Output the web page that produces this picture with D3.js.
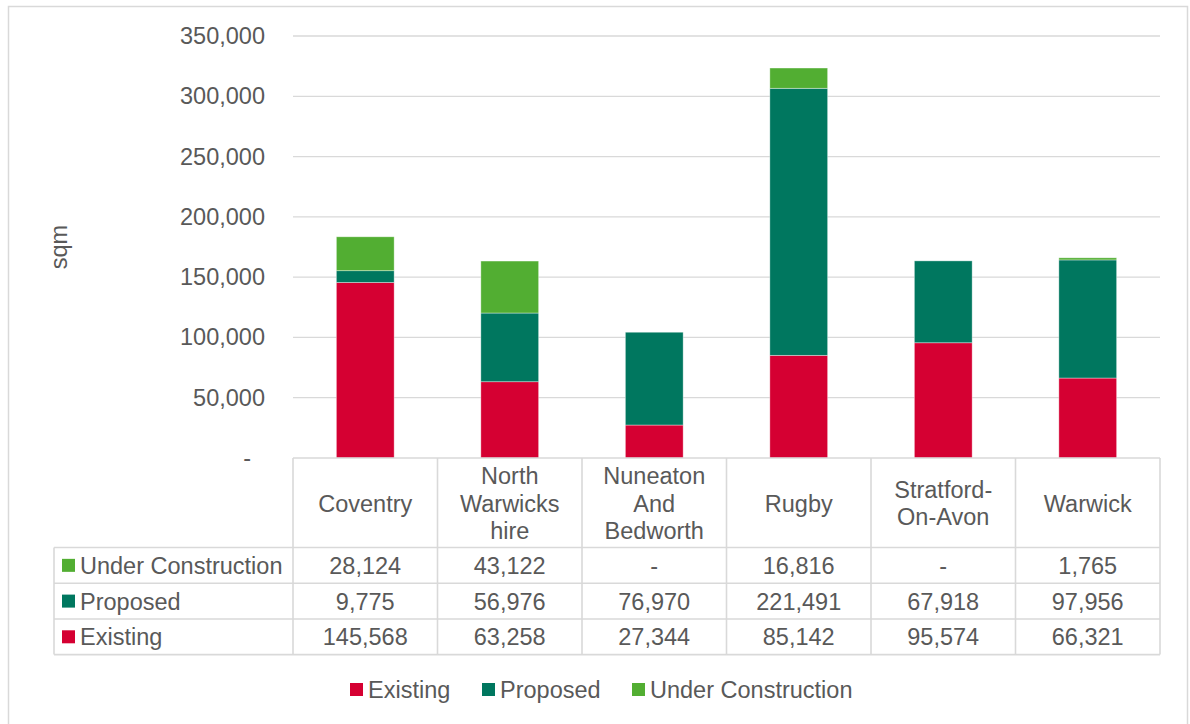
<!DOCTYPE html>
<html><head><meta charset="utf-8">
<script src="https://cdn.jsdelivr.net/npm/d3@7"></script>
<style>
html,body{margin:0;padding:0;background:#fff;}
svg text{font-family:"Liberation Sans",Arial,sans-serif;fill:#595959;}
</style></head>
<body><svg id="c" width="1190" height="724"></svg>
<script>
const categories = ["Coventry","North Warwickshire","Nuneaton And Bedworth","Rugby","Stratford-On-Avon","Warwick"];
const categoryLines = [["Coventry"],["North","Warwicks","hire"],["Nuneaton","And","Bedworth"],["Rugby"],["Stratford-","On-Avon"],["Warwick"]];
const existing = [145568,63258,27344,85142,95574,66321];
const proposed = [9775,56976,76970,221491,67918,97956];
const underConstruction = [28124,43122,0,16816,0,1765];
const seriesNames = ["Existing","Proposed","Under Construction"];
const seriesColors = ["#D50032","#00775F","#52AE32"];
const yTicks = [0,50000,100000,150000,200000,250000,300000,350000];

const svg = d3.select("#c");
const FS = 23.5;
const plot = {left:293,right:1160,top:36,bottom:458};

// outer border
svg.append("rect").attr("x",8.5).attr("y",6.5).attr("width",1179).attr("height",730)
  .attr("fill","none").attr("stroke","#d9d9d9").attr("stroke-width",1.5);

const x = d3.scaleBand().domain(categories).range([plot.left,plot.right]).paddingInner(0.6).paddingOuter(0.3);
const xCell = d3.scaleBand().domain(categories).range([plot.left,plot.right]);
const y = d3.scaleLinear().domain([0,350000]).range([plot.bottom,plot.top]);

// gridlines
svg.append("g").selectAll("line").data(yTicks.slice(1)).join("line")
  .attr("x1",plot.left).attr("x2",plot.right)
  .attr("y1",d=>y(d)).attr("y2",d=>y(d))
  .attr("stroke","#d9d9d9").attr("stroke-width",1.3);

// y axis labels
const fmt = d3.format(",");
const yAxis = d3.axisLeft(y).tickValues(yTicks).tickSize(0).tickPadding(28)
  .tickFormat(d=> d===0 ? "-" : fmt(d));
const ya = svg.append("g").attr("transform",`translate(${plot.left},0)`).call(yAxis);
ya.select(".domain").remove();
ya.selectAll("text").attr("font-size",FS).attr("font-family","Liberation Sans, Arial, sans-serif")
  .attr("fill","#595959").style("fill","#595959")
  .attr("dx",d=> d===0 ? -14 : 0);

// y label
svg.append("text").attr("transform",`translate(${59+8},${247}) rotate(-90)`)
  .attr("text-anchor","middle").attr("font-size",FS).text("sqm");

// stacked bars
const data = categories.map((c,i)=>({cat:c, Existing:existing[i], Proposed:proposed[i], "Under Construction":underConstruction[i]}));
const stack = d3.stack().keys(seriesNames)(data);
svg.append("g").selectAll("g").data(stack).join("g")
  .attr("fill",(d,i)=>seriesColors[i])
  .selectAll("rect").data(d=>d).join("rect")
  .attr("x",d=>x(d.data.cat)).attr("width",x.bandwidth())
  .attr("y",d=>y(d[1])).attr("height",d=>Math.max(0,y(d[0])-y(d[1])))
  .attr("stroke","#ffffff").attr("stroke-opacity",0.5).attr("stroke-width",0.75);

// data table
const tbl = svg.append("g");
const lc = "#d9d9d9", lw = 1.6;
const rowTops = [458,547.5,583.2,619,654.6];
const tableLeft = 54;
// horizontal lines
tbl.append("line").attr("x1",plot.left).attr("x2",plot.right).attr("y1",rowTops[0]).attr("y2",rowTops[0]).attr("stroke",lc).attr("stroke-width",lw);
rowTops.slice(1).forEach(yy=>{
  tbl.append("line").attr("x1",tableLeft).attr("x2",plot.right).attr("y1",yy).attr("y2",yy).attr("stroke",lc).attr("stroke-width",lw);
});
// vertical lines
const colEdges = categories.map(c=>xCell(c)).concat([plot.right]);
colEdges.forEach(xx=>{
  tbl.append("line").attr("x1",xx).attr("x2",xx).attr("y1",rowTops[0]).attr("y2",rowTops[4]).attr("stroke",lc).attr("stroke-width",lw);
});
tbl.append("line").attr("x1",tableLeft).attr("x2",tableLeft).attr("y1",rowTops[1]).attr("y2",rowTops[4]).attr("stroke",lc).attr("stroke-width",lw);

// header labels
const lineH = 27.5;
categories.forEach((c,i)=>{
  const lines = categoryLines[i];
  const cy = (rowTops[0]+rowTops[1])/2 + 0.5;
  const t = tbl.append("text").attr("text-anchor","middle").attr("font-size",FS);
  lines.forEach((ln,j)=>{
    t.append("tspan").attr("x",xCell(c)+xCell.bandwidth()/2)
      .attr("y",cy + (j-(lines.length-1)/2)*lineH + 8.4).text(ln);
  });
});

// rows: Under Construction, Proposed, Existing
const rows = [
  {name:"Under Construction", vals:underConstruction, color:seriesColors[2]},
  {name:"Proposed", vals:proposed, color:seriesColors[1]},
  {name:"Existing", vals:existing, color:seriesColors[0]}
];
rows.forEach((r,k)=>{
  const cy = (rowTops[k+1]+rowTops[k+2])/2;
  tbl.append("rect").attr("x",62).attr("y",cy-6.5).attr("width",13).attr("height",13).attr("fill",r.color);
  tbl.append("text").attr("x",80).attr("y",cy+8.4).attr("font-size",FS).text(r.name);
  categories.forEach((c,i)=>{
    tbl.append("text").attr("x",xCell(c)+xCell.bandwidth()/2).attr("y",cy+8.4)
      .attr("text-anchor","middle").attr("font-size",FS)
      .text(r.vals[i]===0 ? "-" : fmt(r.vals[i]));
  });
});

// legend
const legendItems = [
  {name:"Existing", color:seriesColors[0], x:350},
  {name:"Proposed", color:seriesColors[1], x:482},
  {name:"Under Construction", color:seriesColors[2], x:632}
];
const lg = svg.append("g");
legendItems.forEach(it=>{
  lg.append("rect").attr("x",it.x).attr("y",683).attr("width",13).attr("height",13).attr("fill",it.color);
  lg.append("text").attr("x",it.x+18).attr("y",698).attr("font-size",FS).text(it.name);
});
</script></body></html>
